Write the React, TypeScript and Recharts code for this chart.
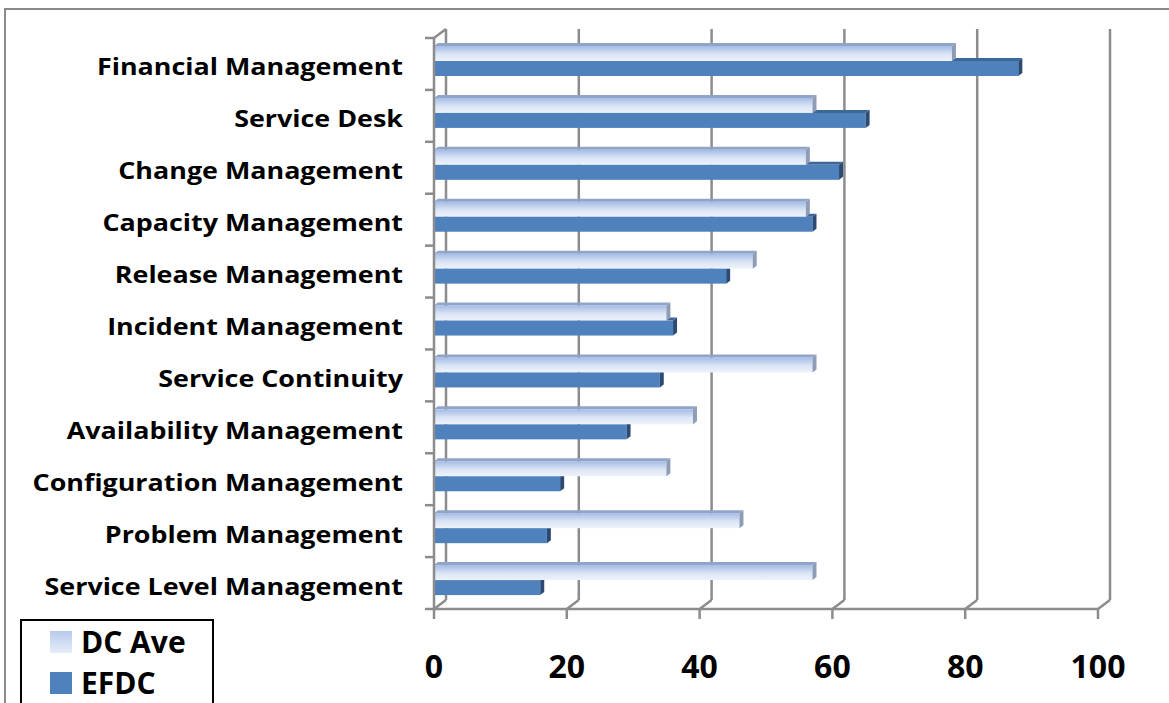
import React from 'react'
import { BarChart, Bar, XAxis, YAxis, CartesianGrid, Legend } from 'recharts'

// values (top to bottom)
const categories = [
  'Financial Management',
  'Service Desk',
  'Change Management',
  'Capacity Management',
  'Release Management',
  'Incident Management',
  'Service Continuity',
  'Availability Management',
  'Configuration Management',
  'Problem Management',
  'Service Level Management',
]
const dcAve = [78, 57, 56, 56, 48, 35, 57, 39, 35, 46, 57]
const efdc = [88, 65, 61, 57, 44, 36, 34, 29, 19, 17, 16]
const xTicks = [0, 20, 40, 60, 80, 100]

const data = categories.map((name, i) => ({ name, dcAve: dcAve[i], efdc: efdc[i] }))

const W = 1169
const H = 703
const TOP = 38
const AXIS_X = 434
const PLOT_BOTTOM = 609
const BAND = (PLOT_BOTTOM - TOP) / categories.length

// 3D look: back wall offset and bar depth
const WALL_DX = 12
const WALL_DY = 9
const BAR_DX = 4
const BAR_DY = 3
const BAR_SHIFT = -3

const GRID = '#8c8c8c'
const DARK = '#4f81bd'
const FONT = "'Open Sans', 'Noto Sans', sans-serif"

/** Vertical back-wall gridline with a little diagonal down to the floor */
function wallLine(props: any) {
  const { x1, y1, y2, index } = props
  const bx = x1 + WALL_DX
  return (
    <g key={`wall-${index}-${x1}`}>
      <line x1={bx} y1={y1 - WALL_DY} x2={bx} y2={y2 - WALL_DY} stroke={GRID} strokeWidth={2.5} />
      <line x1={x1} y1={y2} x2={bx} y2={y2 - WALL_DY} stroke={GRID} strokeWidth={2.5} />
      {index === 0 && (
        <line x1={x1} y1={y1} x2={bx} y2={y1 - WALL_DY} stroke={GRID} strokeWidth={2.5} />
      )}
    </g>
  )
}

/** Bar with a front face, a top face and a right side face */
function Bar3D(props: any) {
  const { x, y, width, height, kind, payload } = props
  if (width == null || width <= 0) return null
  const yy = y + BAR_SHIFT
  const r = x + width
  const isDc = kind === 'dc'
  const front = isDc ? 'url(#dcGrad)' : DARK
  const topFill = isDc ? '#8fa4c8' : '#3d6699'
  const sideFill = isDc ? '#8e9cb5' : '#2b4a74'

  // the light bar sits in front of the dark one: hide what it covers
  let topStart = x
  if (!isDc && payload) {
    const ratio = payload.dcAve / payload.efdc
    topStart = ratio >= 1 ? r + BAR_DX : x + width * ratio
  }
  const covered = !isDc && payload && payload.dcAve > payload.efdc

  return (
    <g>
      {topStart < r && (
        <polygon
          points={`${topStart},${yy} ${topStart + BAR_DX},${yy - BAR_DY} ${r + BAR_DX},${yy - BAR_DY} ${r},${yy}`}
          fill={topFill}
        />
      )}
      <rect x={x} y={yy} width={width} height={height} fill={front} />
      {covered ? (
        <polygon
          points={`${r},${yy} ${r + BAR_DX},${yy} ${r + BAR_DX},${yy + height - BAR_DY} ${r},${yy + height}`}
          fill={sideFill}
        />
      ) : (
        <polygon
          points={`${r},${yy} ${r + BAR_DX},${yy - BAR_DY} ${r + BAR_DX},${yy + height - BAR_DY} ${r},${yy + height}`}
          fill={sideFill}
        />
      )}
    </g>
  )
}

/** Category label plus the boundary tick marks of the left axis */
function CategoryTick(props: any) {
  const { x, y, payload, index } = props
  const last = index === categories.length - 1
  return (
    <g>
      <line x1={AXIS_X - 9} x2={AXIS_X} y1={y - BAND / 2} y2={y - BAND / 2} stroke={GRID} strokeWidth={2.5} />
      {last && (
        <line x1={AXIS_X - 9} x2={AXIS_X} y1={y + BAND / 2} y2={y + BAND / 2} stroke={GRID} strokeWidth={2.5} />
      )}
      <text
        transform={`translate(${x},${y + 3}) scale(1.12,1)`}
        x={0}
        y={0}
        dy={8.5}
        textAnchor="end"
        fontFamily={FONT}
        fontWeight={700}
        fontSize={24}
        fill="#000"
      >
        {payload.value}
      </text>
    </g>
  )
}

function LegendBox(props: any) {
  const items = props.payload || []
  return (
    <div
      style={{
        border: '2px solid #000',
        width: 194,
        height: 92,
        boxSizing: 'border-box',
        paddingTop: 0,
        background: '#fff',
      }}
    >
      {items.map((it: any) => (
        <div
          key={it.value}
          style={{ display: 'flex', alignItems: 'center', height: 41, paddingLeft: 28 }}
        >
          <div
            style={{
              width: 22,
              height: 22,
              marginRight: 9,
              background:
                it.dataKey === 'dcAve'
                  ? 'linear-gradient(#b7caeb, #e6edf8)'
                  : DARK,
            }}
          />
          <span
            style={{
              fontFamily: FONT,
              fontWeight: 700,
              fontSize: 30,
              color: '#000',
              lineHeight: '30px',
            }}
          >
            {it.value}
          </span>
        </div>
      ))}
    </div>
  )
}

export default function App() {
  return (
    <div
      style={{
        position: 'absolute',
        left: 0,
        top: 0,
        width: W,
        height: H,
        overflow: 'hidden',
        background: '#fff',
      }}
    >
      <svg width={0} height={0} style={{ position: 'absolute' }}>
        <defs>
          <linearGradient id="dcGrad" x1="0" y1="0" x2="0" y2="1">
            <stop offset="0%" stopColor="#a4bbe4" />
            <stop offset="55%" stopColor="#dbe5f5" />
            <stop offset="100%" stopColor="#eef3fb" />
          </linearGradient>
        </defs>
      </svg>
      <div
        style={{
          position: 'absolute',
          left: 4,
          top: 8,
          width: 1200,
          height: 800,
          border: '2px solid #8a8a8a',
          pointerEvents: 'none',
        }}
      />
      <div style={{ position: 'absolute', left: 0, top: 0 }}>
        <BarChart
          width={W}
          height={H}
          data={data}
          layout="vertical"
          barGap={0}
          margin={{ top: TOP, right: W - 1098, bottom: 0, left: 0 }}
        >
          <CartesianGrid horizontal={false} vertical={wallLine} />
          <XAxis
            type="number"
            domain={[0, 100]}
            ticks={xTicks}
            interval={0}
            height={H - PLOT_BOTTOM}
            axisLine={{ stroke: GRID, strokeWidth: 2.5 }}
            tickLine={{ stroke: GRID, strokeWidth: 2.5 }}
            tickSize={10}
            tickMargin={36}
            tick={{ fontFamily: FONT, fontWeight: 700, fontSize: 32, fill: '#000' }}
          />
          <YAxis
            type="category"
            dataKey="name"
            width={AXIS_X}
            axisLine={{ stroke: GRID, strokeWidth: 2.5 }}
            tickLine={false}
            tickSize={0}
            tickMargin={31}
            interval={0}
            tick={<CategoryTick />}
          />
          <Legend
            layout="vertical"
            align="center"
            verticalAlign="middle"
            content={<LegendBox />}
            wrapperStyle={{ left: 20, top: 619, width: 194, right: 'auto', bottom: 'auto' }}
          />
          <Bar
            dataKey="dcAve"
            name="DC Ave"
            barSize={15}
            fill="#c5d5ef"
            isAnimationActive={false}
            shape={(p: any) => <Bar3D {...p} kind="dc" />}
          />
          <Bar
            dataKey="efdc"
            name="EFDC"
            barSize={15}
            fill={DARK}
            isAnimationActive={false}
            shape={(p: any) => <Bar3D {...p} kind="ef" />}
          />
        </BarChart>
      </div>
    </div>
  )
}
